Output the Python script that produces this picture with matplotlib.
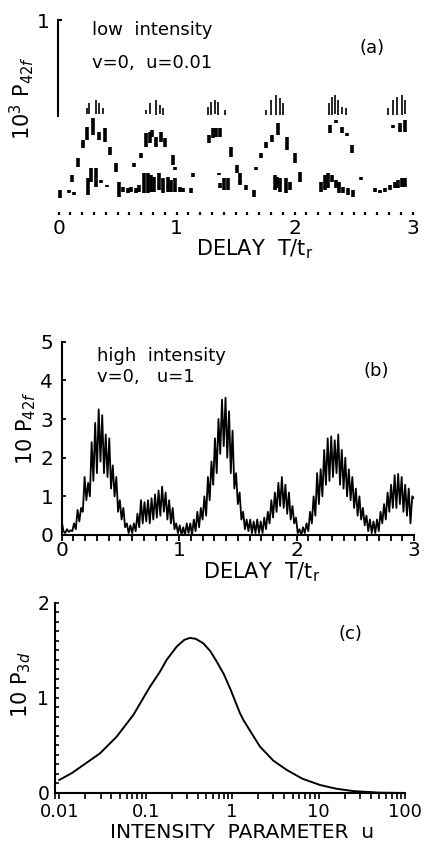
import numpy as np
import matplotlib.pyplot as plt
from matplotlib.ticker import MultipleLocator, LogLocator, NullFormatter

plt.rcParams['font.family'] = 'DejaVu Sans'
plt.rcParams['mathtext.fontset'] = 'dejavusans'

W, H = 428, 842

# ---------------- (a) low intensity, v=0, u=0.01 ----------------
# thin strokes at the tops of the humps: delay, low, high (10^3 P42f)
thin_x = [0.24, 0.26, 0.317, 0.34, 0.38,
          0.744, 0.772, 0.823, 0.857, 0.885,
          1.267, 1.295, 1.323, 1.351, 1.408,
          1.76, 1.80, 1.845, 1.873, 1.90,
          2.294, 2.314, 2.342, 2.37, 2.40, 2.436,
          2.793, 2.835, 2.864, 2.907, 2.935]
thin_lo = [0.52, 0.52, 0.52, 0.52, 0.52,
           0.52, 0.52, 0.513, 0.52, 0.513,
           0.513, 0.513, 0.52, 0.513, 0.513,
           0.513, 0.513, 0.513, 0.513, 0.513,
           0.513, 0.513, 0.52, 0.513, 0.52, 0.513,
           0.513, 0.513, 0.513, 0.513, 0.52]
thin_hi = [0.547, 0.573, 0.59, 0.573, 0.547,
           0.538, 0.573, 0.59, 0.564, 0.547,
           0.556, 0.581, 0.59, 0.581, 0.538,
           0.538, 0.59, 0.615, 0.598, 0.573,
           0.573, 0.607, 0.615, 0.59, 0.556, 0.547,
           0.547, 0.59, 0.607, 0.615, 0.59]

# heavy strokes: delay, low, high
thick_x = [0.011, 0.091, 0.133, 0.113, 0.161, 0.204, 0.238, 0.246, 0.274, 0.294,
           0.317, 0.345, 0.396, 0.359, 0.407, 0.439, 0.487, 0.515, 0.549, 0.586,
           0.614, 0.656, 0.685, 0.719, 0.642, 0.699,
           0.741, 0.770, 0.792, 0.826, 0.869, 0.903, 0.973, 1.024, 0.990, 0.755,
           0.784, 0.812, 0.849, 0.883, 0.925, 0.954, 0.982, 1.053, 1.118, 1.138,
           1.273, 1.307, 1.330, 1.364, 1.463, 1.514, 1.539, 1.590, 1.653, 1.355,
           1.364, 1.398, 1.435, 1.534,
           1.675, 1.718, 1.760, 1.811, 1.859, 1.936, 2.001, 1.831, 1.851, 1.873,
           1.924, 1.958, 2.044,
           2.227, 2.255, 2.284, 2.312, 2.354, 2.377, 2.411, 2.453, 2.496, 2.566,
           2.297, 2.348, 2.400, 2.442, 2.484,
           2.835, 2.892, 2.935, 2.680, 2.723, 2.765, 2.807, 2.850, 2.878, 2.906,
           2.935]
thick_lo = [0.085, 0.111, 0.103, 0.171, 0.248, 0.342, 0.385, 0.103, 0.171, 0.410,
            0.145, 0.385, 0.376, 0.162, 0.142, 0.308, 0.222, 0.094, 0.120, 0.111,
            0.120, 0.111, 0.120, 0.111, 0.248, 0.291,
            0.350, 0.368, 0.402, 0.350, 0.376, 0.350, 0.256, 0.120, 0.231, 0.111,
            0.120, 0.120, 0.128, 0.111, 0.120, 0.120, 0.120, 0.120, 0.111, 0.197,
            0.368, 0.393, 0.402, 0.402, 0.299, 0.214, 0.162, 0.128, 0.094, 0.205,
            0.137, 0.128, 0.128, 0.154,
            0.231, 0.291, 0.342, 0.376, 0.410, 0.333, 0.265, 0.128, 0.137, 0.120,
            0.111, 0.128, 0.171,
            0.120, 0.128, 0.137, 0.171, 0.137, 0.111, 0.111, 0.103, 0.094, 0.179,
            0.420, 0.472, 0.419, 0.403, 0.316,
            0.444, 0.427, 0.427, 0.120, 0.111, 0.120, 0.128, 0.137, 0.137, 0.145,
            0.145]
thick_hi = [0.128, 0.128, 0.120, 0.205, 0.291, 0.385, 0.453, 0.188, 0.239, 0.496,
            0.239, 0.427, 0.444, 0.179, 0.154, 0.350, 0.265, 0.171, 0.145, 0.137,
            0.145, 0.137, 0.154, 0.214, 0.265, 0.316,
            0.419, 0.427, 0.436, 0.402, 0.427, 0.393, 0.308, 0.145, 0.248, 0.214,
            0.205, 0.197, 0.214, 0.188, 0.197, 0.179, 0.188, 0.137, 0.137, 0.214,
            0.410, 0.444, 0.444, 0.444, 0.350, 0.256, 0.214, 0.154, 0.128, 0.214,
            0.162, 0.188, 0.188, 0.179,
            0.248, 0.316, 0.376, 0.410, 0.470, 0.402, 0.316, 0.205, 0.197, 0.188,
            0.188, 0.171, 0.222,
            0.171, 0.205, 0.214, 0.205, 0.179, 0.171, 0.145, 0.137, 0.128, 0.197,
            0.462, 0.487, 0.453, 0.419, 0.359,
            0.462, 0.470, 0.487, 0.137, 0.128, 0.137, 0.154, 0.171, 0.179, 0.188,
            0.188]

# ---------------- (b) high intensity, v=0, u=1 ----------------
# 10 P42f sampled every 0.015 in delay T/tr (alternating valley / peak)
p42f_b = [
    0.35, 0.10, 0.05, 0.15, 0.08, 0.12, 0.10, 0.30, 0.15, 0.65,
    0.35, 0.70, 0.60, 1.50, 0.90, 1.35, 1.00, 2.40, 1.40, 2.90,
    1.60, 3.25, 1.90, 3.10, 1.60, 2.60, 1.50, 2.50, 1.20, 1.80,
    1.00, 1.50, 0.60, 0.90, 0.40, 0.70, 0.20, 0.30, 0.05, 0.25,
    0.05, 0.30, 0.10, 0.55, 0.20, 0.90, 0.30, 0.85, 0.35, 0.90,
    0.30, 0.95, 0.40, 1.05, 0.45, 1.15, 0.50, 1.25, 0.60, 1.10,
    0.40, 0.90, 0.30, 0.70, 0.15, 0.30, 0.05, 0.25, 0.00, 0.20,
    0.00, 0.30, 0.05, 0.30, 0.00, 0.40, 0.10, 0.60, 0.20, 0.70,
    0.40, 1.00, 0.50, 1.50, 0.90, 1.90, 1.30, 2.50, 1.60, 3.00,
    2.10, 3.50, 2.30, 3.55, 2.00, 3.20, 1.60, 2.70, 1.20, 1.60,
    0.80, 1.10, 0.40, 0.60, 0.15, 0.40, 0.10, 0.40, 0.05, 0.35,
    0.05, 0.40, 0.05, 0.35, 0.05, 0.45, 0.15, 0.60, 0.30, 0.90,
    0.45, 1.10, 0.60, 1.35, 0.75, 1.50, 0.70, 1.30, 0.55, 1.10,
    0.40, 0.75, 0.30, 0.45, 0.05, 0.15, 0.00, 0.20, 0.05, 0.30,
    0.10, 0.60, 0.30, 1.00, 0.50, 1.60, 0.80, 1.70, 1.00, 2.20,
    1.30, 2.50, 1.40, 2.55, 1.50, 2.45, 1.60, 2.60, 1.30, 2.20,
    1.20, 2.00, 1.00, 1.70, 0.90, 1.50, 0.70, 1.20, 0.50, 1.00,
    0.40, 0.70, 0.25, 0.50, 0.10, 0.40, 0.05, 0.35, 0.05, 0.40,
    0.10, 0.60, 0.30, 0.80, 0.40, 1.10, 0.60, 1.30, 0.70, 1.55,
    0.70, 1.58, 0.80, 1.50, 0.60, 1.30, 0.50, 1.20, 0.30, 1.00,
    0.95]
delay_b = np.linspace(0, 3, len(p42f_b))

# ---------------- (c) 10 P3d versus intensity parameter u ----------------
u_c = [0.01, 0.014, 0.019, 0.0296, 0.0461, 0.0719, 0.112, 0.145, 0.175, 0.229,
       0.28, 0.325, 0.38, 0.464, 0.56, 0.664, 0.80, 0.946, 1.23, 1.35,
       1.7, 2.1, 3.0, 4.29, 6.5, 10.4, 16.0, 25.3, 50.0, 100.0]
p3d_c = [0.137, 0.21, 0.294, 0.417, 0.592, 0.82, 1.117, 1.27, 1.40, 1.54,
         1.61, 1.63, 1.62, 1.573, 1.49, 1.38, 1.25, 1.10, 0.84, 0.767,
         0.62, 0.487, 0.34, 0.242, 0.15, 0.084, 0.045, 0.02, 0.004, 0.0]


def fx(px):
    return px / W


def fy(py):
    return 1 - py / H


fig = plt.figure(figsize=(W / 100, H / 100), dpi=100)

tick_fs = 14.5
lab_fs = 15
txt_fs = 13

# panel (a)
axa = fig.add_axes([fx(58.3), fy(215), fx(412.7) - fx(58.3), fy(20) - fy(215)])
axa.vlines(thick_x, thick_lo, thick_hi, colors='black', linewidth=2.6)
axa.vlines(thin_x, thin_lo, thin_hi, colors='black', linewidth=1.2)
axa.set_xlim(-0.003, 3)
axa.set_ylim(0, 1)
for s in ['top', 'right', 'bottom']:
    axa.spines[s].set_visible(False)
axa.spines['left'].set_bounds(0.51, 1)
axa.spines['left'].set_linewidth(1.5)
axa.set_xticks([0, 1, 2, 3])
axa.xaxis.set_minor_locator(MultipleLocator(0.1))
axa.set_yticks([1])
axa.tick_params(axis='x', which='both', direction='in', length=2.5, width=1.6,
                labelsize=tick_fs, pad=3)
axa.tick_params(axis='y', direction='in', length=3, width=1.5,
                labelsize=tick_fs, pad=6)
fig.text(fx(92), fy(35), 'low  intensity', fontsize=txt_fs, va='baseline')
fig.text(fx(92), fy(68), 'v=0,  u=0.01', fontsize=txt_fs, va='baseline')
fig.text(fx(372), fy(48), '(a)', fontsize=txt_fs, ha='center', va='center')
fig.text(fx(22), fy(98), r'10$^{3}$ P$_{42f}$', fontsize=lab_fs, rotation=90,
         ha='center', va='center')
fig.text(fx(255), fy(255), r'DELAY  T/t$_{\rm r}$', fontsize=lab_fs,
         ha='center', va='baseline')

# panel (b)
axb = fig.add_axes([fx(61.7), fy(535), fx(414) - fx(61.7), fy(341.7) - fy(535)])
axb.plot(delay_b, p42f_b, color='black', linewidth=1.3)
axb.set_xlim(0, 3)
axb.set_ylim(0, 5)
for s in ['top', 'right']:
    axb.spines[s].set_visible(False)
for s in ['left', 'bottom']:
    axb.spines[s].set_linewidth(1.5)
axb.set_xticks([0, 1, 2, 3])
axb.xaxis.set_minor_locator(MultipleLocator(0.1))
axb.set_yticks([0, 1, 2, 3, 4, 5])
axb.tick_params(axis='x', which='both', direction='out', length=4, width=1.3,
                labelsize=tick_fs, pad=0.5)
axb.tick_params(axis='y', direction='in', length=3, width=1.3,
                labelsize=tick_fs, pad=6)
fig.text(fx(97), fy(361), 'high  intensity', fontsize=txt_fs, va='baseline')
fig.text(fx(97), fy(382), 'v=0,   u=1', fontsize=txt_fs, va='baseline')
fig.text(fx(376), fy(371), '(b)', fontsize=txt_fs, ha='center', va='center')
fig.text(fx(26), fy(428), r'10 P$_{42f}$', fontsize=lab_fs, rotation=90,
         ha='center', va='center')
fig.text(fx(262), fy(578), r'DELAY  T/t$_{\rm r}$', fontsize=lab_fs,
         ha='center', va='baseline')

# panel (c)
axc = fig.add_axes([fx(54.7), fy(793), fx(405) - fx(54.7), fy(602.7) - fy(793)])
axc.plot(u_c, p3d_c, color='black', linewidth=1.4)
axc.set_xscale('log')
axc.set_xlim(0.00885, 100)
axc.set_ylim(0, 2)
for s in ['top', 'right']:
    axc.spines[s].set_visible(False)
for s in ['left', 'bottom']:
    axc.spines[s].set_linewidth(1.5)
axc.set_xticks([0.01, 0.1, 1, 10, 100])
axc.set_xticklabels(['0.01', '0.1', '1', '10', '100'])
axc.xaxis.set_minor_locator(LogLocator(base=10, subs=np.arange(2, 10)))
axc.xaxis.set_minor_formatter(NullFormatter())
axc.set_yticks([0, 1, 2])
axc.yaxis.set_minor_locator(MultipleLocator(0.1))
axc.tick_params(axis='x', which='both', direction='out', length=4, width=1.2,
                labelsize=13, pad=3)
axc.tick_params(axis='y', which='both', direction='in', length=3, width=1.2,
                labelsize=13.5, pad=4)
fig.text(fx(350), fy(634), '(c)', fontsize=txt_fs, ha='center', va='center')
fig.text(fx(21), fy(685), r'10 P$_{3d}$', fontsize=lab_fs, rotation=90,
         ha='center', va='center')
fig.text(fx(242), fy(838), 'INTENSITY  PARAMETER  u', fontsize=14.5,
         ha='center', va='baseline')

fig.savefig('out.png', dpi=100)
